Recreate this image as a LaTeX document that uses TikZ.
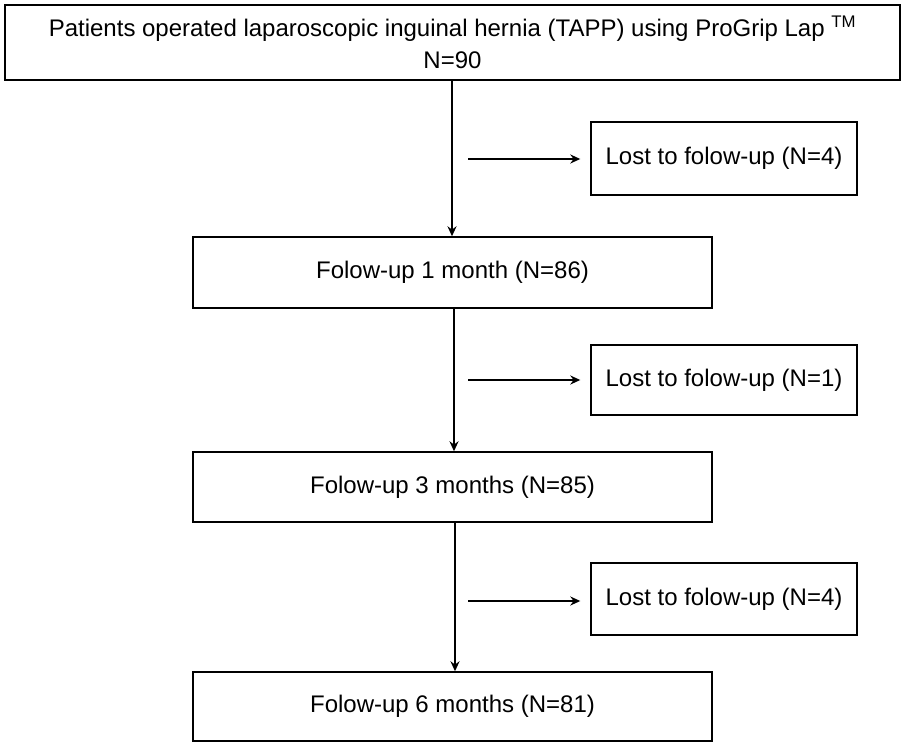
\documentclass[tikz,border=0pt]{standalone}
\usepackage{fontspec}
\setmainfont{Liberation Sans}
\usetikzlibrary{arrows.meta}
\begin{document}
\begin{tikzpicture}[x=1pt,y=-1pt,
  box/.style={draw,line width=1.4pt,inner sep=0pt},
  arr/.style={line width=2pt,-{Stealth[length=10pt,width=9pt]}},
  lbl/.style={font=\fontsize{24}{32}\selectfont}]
\useasboundingbox (0,0) rectangle (905,746);
\node[box,minimum width=895pt,minimum height=75pt,lbl,align=center] (top) at (452.5,42.5) {Patients operated laparoscopic inguinal hernia (TAPP) using ProGrip Lap \textsuperscript{TM}\\N=90};
\node[box,minimum width=519pt,minimum height=71pt,lbl] (m1) at (452.5,272.5) {Folow-up 1 month (N=86)};
\node[box,minimum width=519pt,minimum height=70pt,lbl] (m3) at (452.5,487) {Folow-up 3 months (N=85)};
\node[box,minimum width=519pt,minimum height=69pt,lbl] (m6) at (452.5,706.5) {Folow-up 6 months (N=81)};
\node[box,minimum width=266pt,minimum height=73pt,lbl] (l1) at (724,158.5) {Lost to folow-up (N=4)};
\node[box,minimum width=266pt,minimum height=70pt,lbl] (l2) at (724,380) {Lost to folow-up (N=1)};
\node[box,minimum width=266pt,minimum height=72pt,lbl] (l3) at (724,599) {Lost to folow-up (N=4)};
\coordinate (t0) at (452,80);
\draw[arr] (t0) -- (m1.north -| t0);
\coordinate (t1) at (454,308);
\draw[arr] (t1) -- (m3.north -| t1);
\coordinate (t3) at (455,522);
\draw[arr] (t3) -- (m6.north -| t3);
\coordinate (h1) at (468,159);
\draw[arr] (h1) -- ([xshift=-10pt]l1.west |- h1);
\coordinate (h2) at (468,380);
\draw[arr] (h2) -- ([xshift=-10pt]l2.west |- h2);
\coordinate (h3) at (468,601);
\draw[arr] (h3) -- ([xshift=-10pt]l3.west |- h3);
\end{tikzpicture}
\end{document}
